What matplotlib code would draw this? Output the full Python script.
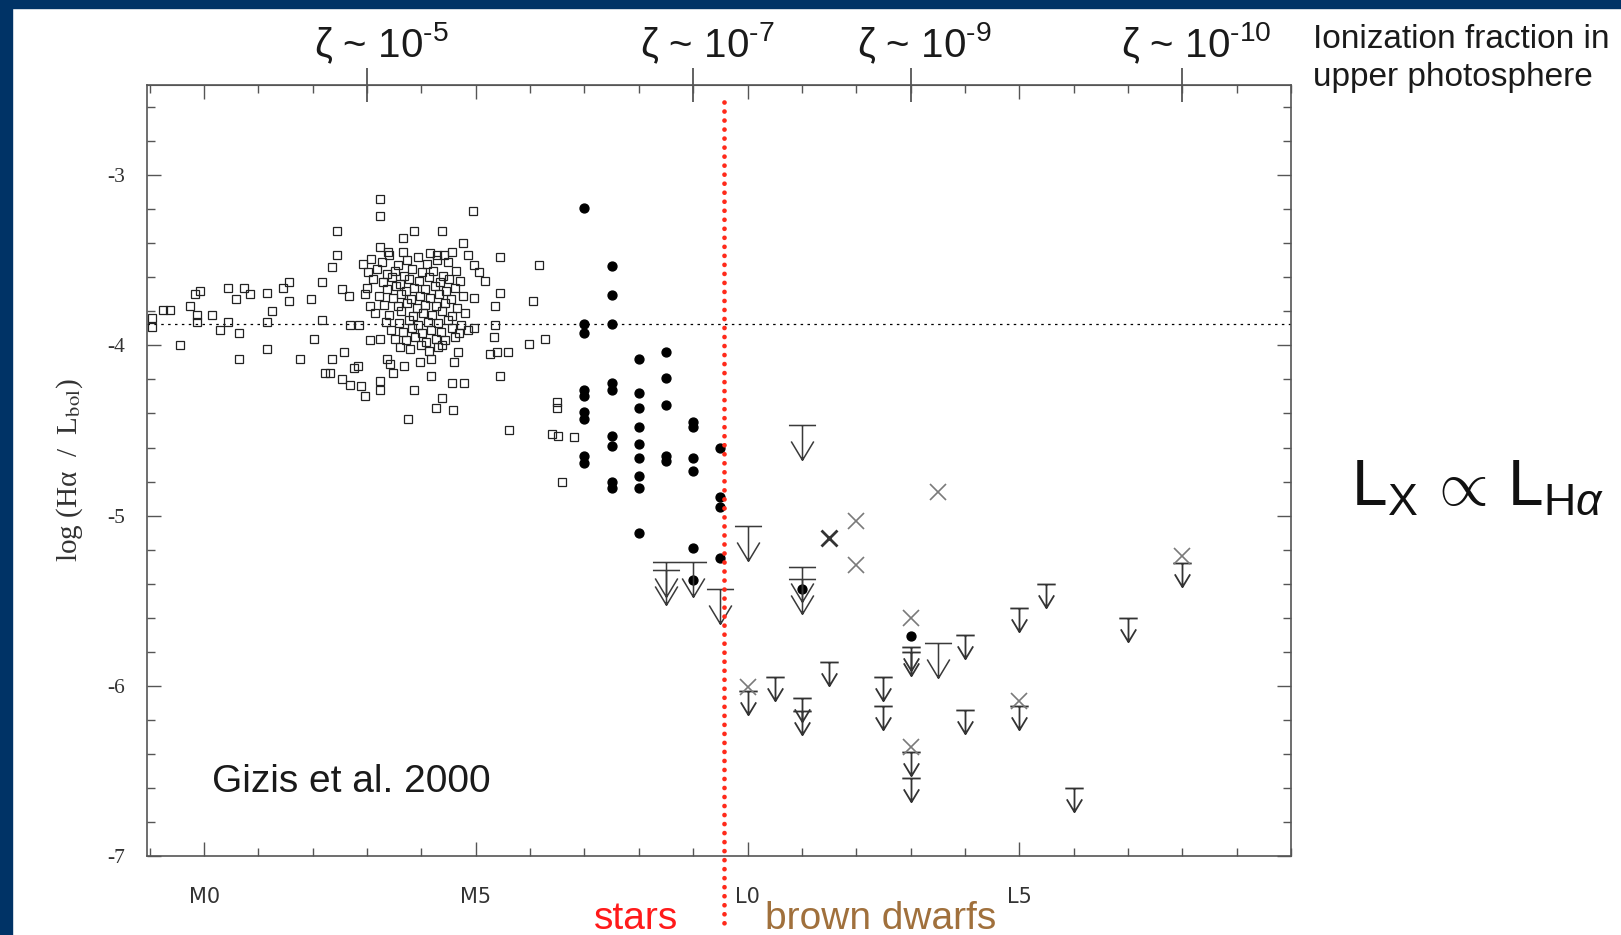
import matplotlib
matplotlib.use("Agg")
import matplotlib.pyplot as plt
from matplotlib.path import Path
from matplotlib.patches import Rectangle
from matplotlib.ticker import MultipleLocator

plt.rcParams["font.family"] = ["Liberation Sans", "DejaVu Sans"]
plt.rcParams["mathtext.fontset"] = "custom"
plt.rcParams["mathtext.rm"] = "Liberation Sans"
plt.rcParams["mathtext.it"] = "Liberation Sans:italic"
plt.rcParams["mathtext.bf"] = "Liberation Sans:bold"

# spectral type index: M0 = 0, M5 = 5, L0 = 10, L5 = 15
spt_ticks = [0, 5, 10, 15]
spt_labels = ["M0", "M5", "L0", "L5"]
logha_ticks = [-3, -4, -5, -6, -7]
logha_labels = ["-3", "-4", "-5", "-6", "-7"]
zeta_spt = [3, 9, 13, 18]
zeta_labels = ["ζ ~ 10$^{‐5}$", "ζ ~ 10$^{‐7}$", "ζ ~ 10$^{‐9}$", "ζ ~ 10$^{‐10}$"]
saturation_level = -3.875
star_bd_boundary = 9.56

# open squares (M dwarfs)
msq_spt = [
    -0.96, -0.96, -0.75, -0.63, -0.26, -0.16, -0.07, -0.13, -0.13, 0.15,
    -0.44, 0.30, 0.44, 0.44, 0.58, 0.64, 0.64, 0.74, 0.85, 1.16,
    1.16, 1.25, 1.16, 1.45, 1.56, 1.56, 1.77, 1.96, 2.02, 2.17,
    2.17, 2.35, 2.35, 2.32,
    3.24, 3.24, 4.95, 2.45, 3.86, 4.38, 3.66, 4.76, 3.24, 3.38,
    3.66, 2.45, 4.16, 4.29, 4.41, 4.56, 4.86, 5.45, 6.16, 4.96,
    5.05, 5.17, 2.54, 2.66, 2.97, 3.06, 5.45, 4.96, 5.36, 6.06,
    2.69, 2.85, 4.96, 5.36, 5.33, 5.97, 6.28, 2.57, 2.23, 3.24,
    3.24, 3.37, 3.43, 3.48, 3.67, 3.86, 3.98, 4.18, 4.18, 4.38,
    4.26, 4.58, 3.76, 4.56, 4.78, 4.59, 4.67, 4.38, 3.06, 3.24,
    5.45, 5.27, 5.39, 5.59, 2.54, 2.69, 2.88, 2.97, 2.75, 2.84,
    6.49, 6.49, 5.61, 6.40, 6.51, 6.80, 6.59,
    2.93, 3.08, 3.27, 3.41, 3.57, 3.74, 3.93, 4.11, 4.28, 4.49,
    3.02, 3.19, 3.36, 3.51, 3.67, 3.83, 4.01, 4.21, 4.39, 4.63,
    3.11, 3.29, 3.45, 3.61, 3.77, 3.96, 4.13, 4.34, 4.51, 4.71,
    2.99, 3.37, 3.53, 3.71, 3.87, 4.06, 4.24, 4.46, 4.61,
    3.21, 3.47, 3.63, 3.81, 3.97, 4.16, 4.33, 4.54, 4.76,
    3.31, 3.56, 3.73, 3.91, 4.07, 4.27, 4.43, 4.66,
    3.14, 3.41, 3.62, 3.84, 4.03, 4.19, 4.37, 4.57, 4.81,
    3.34, 3.59, 3.77, 3.94, 4.12, 4.31, 4.49, 4.73,
    3.44, 3.66, 3.83, 4.01, 4.18, 4.36, 4.56, 4.69, 4.86,
    3.52, 3.71, 3.89, 4.08, 4.26, 4.44, 4.62,
    3.61, 3.79, 3.99, 4.14, 4.31,
]
msq_logha = [
    -3.84, -3.89, -3.79, -3.79, -3.77, -3.70, -3.68, -3.82, -3.86, -3.82,
    -4.00, -3.91, -3.66, -3.86, -3.73, -3.93, -4.08, -3.66, -3.70, -3.69,
    -3.86, -3.80, -4.02, -3.66, -3.63, -3.74, -4.08, -3.73, -3.96, -3.63,
    -3.85, -3.54, -4.08, -4.16,
    -3.14, -3.24, -3.21, -3.33, -3.33, -3.33, -3.37, -3.40, -3.42, -3.45,
    -3.45, -3.47, -3.46, -3.47, -3.47, -3.45, -3.47, -3.48, -3.53, -3.53,
    -3.57, -3.62, -3.67, -3.71, -3.70, -3.77, -3.69, -3.72, -3.77, -3.74,
    -3.88, -3.88, -3.90, -3.88, -3.95, -3.99, -3.96, -4.04, -4.16, -4.21,
    -4.26, -4.08, -4.11, -4.16, -4.12, -4.26, -4.10, -4.08, -4.18, -4.31,
    -4.37, -4.38, -4.43, -4.22, -4.22, -4.10, -4.04, -4.00, -3.97, -3.96,
    -4.18, -4.05, -4.04, -4.04, -4.20, -4.23, -4.24, -4.30, -4.13, -4.12,
    -4.33, -4.37, -4.50, -4.52, -4.53, -4.54, -4.80,
    -3.52, -3.49, -3.51, -3.47, -3.53, -3.50, -3.48, -3.52, -3.50, -3.51,
    -3.57, -3.55, -3.58, -3.56, -3.59, -3.55, -3.57, -3.56, -3.59, -3.56,
    -3.61, -3.63, -3.60, -3.64, -3.61, -3.62, -3.60, -3.63, -3.61, -3.62,
    -3.66, -3.67, -3.65, -3.68, -3.66, -3.67, -3.65, -3.68, -3.66,
    -3.71, -3.72, -3.70, -3.73, -3.71, -3.72, -3.70, -3.73, -3.71,
    -3.76, -3.77, -3.75, -3.78, -3.76, -3.77, -3.75, -3.78,
    -3.81, -3.82, -3.80, -3.83, -3.81, -3.82, -3.80, -3.83, -3.81,
    -3.86, -3.87, -3.85, -3.88, -3.86, -3.87, -3.85, -3.88,
    -3.91, -3.92, -3.90, -3.93, -3.91, -3.92, -3.90, -3.93, -3.91,
    -3.96, -3.97, -3.95, -3.98, -3.96, -3.97, -3.95,
    -4.01, -4.02, -4.00, -4.03, -4.01,
]

# filled circles (late M / L detections)
det_spt = [7.0] * 9 + [7.5] * 9 + [8.0] * 9 + [8.5] * 5 + [9.0] * 6 + [9.5] * 4 + [11.0, 13.0]
det_logha = [
    -3.19, -3.875, -3.925, -4.26, -4.30, -4.39, -4.43, -4.65, -4.69,
    -3.535, -3.705, -3.875, -4.22, -4.26, -4.53, -4.59, -4.80, -4.84,
    -4.08, -4.28, -4.37, -4.48, -4.58, -4.66, -4.77, -4.84, -5.10,
    -4.04, -4.19, -4.35, -4.65, -4.68,
    -4.45, -4.48, -4.66, -4.74, -5.19, -5.38,
    -4.60, -4.89, -4.95, -5.25,
    -5.43, -5.71,
]

# upper limits
ulim_big_spt = [8.5, 8.5, 9.0, 9.5, 10.0, 11.0, 11.0, 11.0, 13.5]
ulim_big_logha = [-5.27, -5.32, -5.27, -5.43, -5.06, -4.47, -5.30, -5.37, -5.75]
ulim_small_spt = [10.0, 10.5, 11.0, 11.0, 11.5, 12.5, 12.5, 13.0, 13.0, 13.0,
                  13.0, 14.0, 14.0, 15.0, 15.0, 15.5, 16.0, 17.0, 18.0]
ulim_small_logha = [-6.03, -5.95, -6.07, -6.15, -5.86, -5.95, -6.12, -5.77, -5.80, -6.39,
                    -6.54, -5.70, -6.14, -5.54, -6.12, -5.40, -6.60, -5.60, -5.28]

# crosses
cross_spt = [12.0, 12.0, 13.5, 13.0, 10.0, 13.0, 15.0, 18.0]
cross_logha = [-5.03, -5.29, -4.86, -5.60, -6.01, -6.36, -6.09, -5.24]
cross_bold_spt = [11.5]
cross_bold_logha = [-5.13]

# T-bar + down arrow marker, origin at the bar
ulim_marker = Path(
    [(-0.78, 0), (0.78, 0), (0, 0), (0, -2), (-0.65, -0.92), (0, -2), (0.65, -0.92)],
    [Path.MOVETO, Path.LINETO, Path.MOVETO, Path.LINETO, Path.MOVETO, Path.LINETO, Path.LINETO],
)

fig = plt.figure(figsize=(16.21, 9.35), dpi=100)
fig.patches.append(Rectangle((0, 0), 12 / 1621, 1, transform=fig.transFigure,
                             color="#003366", zorder=0))
fig.patches.append(Rectangle((0, 1 - 8 / 935), 1, 8 / 935, transform=fig.transFigure,
                             color="#003366", zorder=0))

ax = fig.add_axes([0.0907, 0.0845, 0.7057, 0.8246])
ax.set_xlim(-1.05, 20.0)
ax.set_ylim(-7.0, -2.47)

ax.axhline(saturation_level, color="black", lw=0.9, ls=(0, (2, 3.5)), zorder=1)

ax.plot(msq_spt, msq_logha, ls="none", marker="s", ms=5.2, mfc="none",
        mec="#222222", mew=0.9, zorder=2)
ax.plot(det_spt, det_logha, ls="none", marker="o", ms=6.4, color="black", zorder=3)
ax.plot(ulim_big_spt, ulim_big_logha, ls="none", marker=ulim_marker, ms=50,
        mfc="none", mec="#3a3a3a", mew=1.1, zorder=3)
ax.plot(ulim_small_spt, ulim_small_logha, ls="none", marker=ulim_marker, ms=34,
        mfc="none", mec="#333333", mew=1.3, zorder=3)
ax.plot(cross_spt, cross_logha, ls="none", marker="x", ms=12, mec="#7a7a7a",
        mew=1.2, zorder=3)
ax.plot(cross_bold_spt, cross_bold_logha, ls="none", marker="x", ms=12, mec="#333333",
        mew=2.0, zorder=3)

ax.plot([star_bd_boundary, star_bd_boundary], [-2.57, -7.40], color="#ff2a1a", lw=3.4,
        ls=(0, (0.01, 1.9)), dash_capstyle="round", clip_on=False, zorder=5)

for side in ax.spines.values():
    side.set_color("#555555")
    side.set_linewidth(1.2)

ax.set_xticks(spt_ticks, labels=spt_labels)
ax.xaxis.set_minor_locator(MultipleLocator(1))
ax.set_yticks(logha_ticks, labels=logha_labels)
ax.yaxis.set_minor_locator(MultipleLocator(0.2))
ax.tick_params(which="both", direction="in", top=True, right=True, color="#555555", width=1)
ax.tick_params(which="major", length=10)
ax.tick_params(which="minor", length=6)
ax.tick_params(axis="x", pad=22, labelsize=15, labelcolor="#333333")
ax.tick_params(axis="y", pad=16, labelcolor="#333333")
for lbl in ax.get_xticklabels():
    lbl.set_family("DejaVu Sans")
for lbl in ax.get_yticklabels():
    lbl.set_family("Liberation Serif")
    lbl.set_fontsize(15.5)

sec = ax.secondary_xaxis("top")
sec.set_xticks(zeta_spt, labels=[""] * len(zeta_spt))
sec.tick_params(direction="inout", length=25, width=1.3, color="#555555")
sec.spines["top"].set_color("#555555")
for xs, lab in zip(zeta_spt, zeta_labels):
    ax.annotate(lab, xy=(xs, 1), xycoords=ax.get_xaxis_transform(), xytext=(10, 20),
                textcoords="offset points", ha="center", va="baseline",
                fontsize=29, color="#1a1a1a")

ax.set_ylabel("log (Hα  /  L$_{\\rm bol}$)", family="Liberation Serif",
              math_fontfamily="stix", fontsize=21, color="#333333")
ax.yaxis.set_label_coords(-0.054, 0.5)

ax.text(0.0568, 0.083, "Gizis et al. 2000", transform=ax.transAxes, fontsize=28,
        color="#1a1a1a", va="baseline")

fig.text(0.81, 1 - 24 / 935, "Ionization fraction in\nupper photosphere", fontsize=24,
         color="#1a1a1a", va="top", ha="left", linespacing=1.3)
fig.text(0.8335, 0.4604,
         r"$\mathrm{L}_{\mathrm{X}}\,\propto\,\mathrm{L}_{\mathrm{H}\alpha}$",
         fontsize=46, color="#111111", va="baseline", ha="left")
fig.text(0.3667, 0.006, "stars", fontsize=28, color="#ff1a1a", va="baseline")
fig.text(0.472, 0.006, "brown dwarfs", fontsize=28, color="#a0703c", va="baseline")

fig.savefig("out.png", dpi=100)
